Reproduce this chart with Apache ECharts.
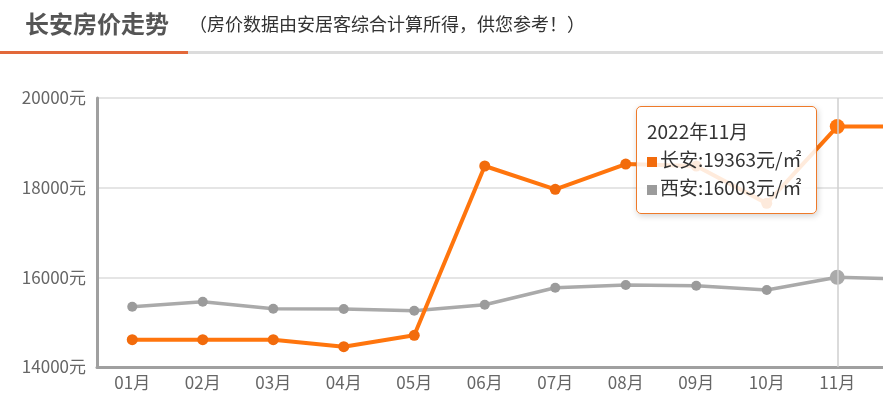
<!DOCTYPE html>
<html>
<head>
<meta charset="utf-8">
<script src="https://cdn.jsdelivr.net/npm/echarts@6/dist/echarts.min.js"></script>
<style>
html,body{margin:0;padding:0;background:#fff;}
#c{width:883px;height:416px;}
</style>
</head>
<body>
<div id="c"></div>
<script>
var months = ['01月','02月','03月','04月','05月','06月','07月','08月','09月','10月','11月','12月'];
var fullMonths = ['2022年01月','2022年02月','2022年03月','2022年04月','2022年05月','2022年06月','2022年07月','2022年08月','2022年09月','2022年10月','2022年11月','2022年12月'];
var changan = [14609, 14609, 14609, 14453, 14707, 18483, 17962, 18527, 18483, 17650, 19363, 19363];
var xian = [15345, 15457, 15300, 15293, 15256, 15390, 15769, 15829, 15814, 15717, 16003, 15960];
var seriesNames = ['长安', '西安'];
var yTicks = { min: 14000, max: 20000, interval: 2000 };
var highlightIndex = 10;

var ORANGE = '#f26b0c';
var GREY = '#9b9b9b';

function toData(arr){
  return arr.map(function(v,i){
    return i === highlightIndex ? {value: v, symbolSize: 15} : v;
  });
}

var chart = echarts.init(document.getElementById('c'), null, {renderer:'canvas'});
chart.setOption({
  animation: false,
  backgroundColor: '#fff',
  textStyle: { fontFamily: '"Noto Sans CJK SC", "Noto Sans", sans-serif' },
  graphic: [
    { type: 'text', left: 25, top: 12, style: { text: '长安房价走势', font: 'bold 24px "Noto Sans CJK SC"', fill: '#555' } },
    { type: 'text', left: 189, top: 15, style: { text: '（房价数据由安居客综合计算所得，供您参考！）', font: '18px "Noto Sans CJK SC"', fill: '#333' } },
    { type: 'rect', shape: { x: 188, y: 51, width: 700, height: 3 }, style: { fill: '#dcdcdc' } },
    { type: 'rect', shape: { x: 0, y: 51, width: 188, height: 3 }, style: { fill: '#e2683a' } }
  ],
  grid: { left: 97, top: 98, width: 846, height: 269, outerBoundsMode: 'none', containLabel: false },
  tooltip: {
    trigger: 'axis',
    alwaysShowContent: true,
    position: function(){ return [636, 106]; },
    backgroundColor: 'rgba(255,255,255,0.86)',
    borderColor: '#ee7a2a',
    borderWidth: 1.5,
    padding: [9, 15, 12, 10],
    extraCssText: 'border-radius:5px;box-shadow:1px 2px 6px rgba(0,0,0,0.18);',
    textStyle: { color: '#333', fontSize: 19, fontFamily: '"Noto Sans CJK SC", sans-serif' },
    axisPointer: { type: 'line', lineStyle: { color: '#cfcfcf', width: 1.5, type: 'solid' } },
    formatter: function(params){
      var idx = params[0].dataIndex;
      var html = '<div style="line-height:29px;font-size:19px;color:#333;">' + fullMonths[idx] + '</div>';
      params.forEach(function(p){
        var col = p.seriesIndex === 0 ? ORANGE : GREY;
        html += '<div style="line-height:28px;font-size:19px;color:#333;white-space:nowrap;">' +
          '<span style="display:inline-block;width:10px;height:10px;background:' + col + ';margin-right:3px;vertical-align:0px;"></span>' +
          p.seriesName + ':' + p.value + '元/㎡</div>';
      });
      return html;
    }
  },
  xAxis: {
    type: 'category',
    data: months,
    boundaryGap: true,
    axisLine: { lineStyle: { color: '#a0a0a0', width: 3 } },
    axisTick: { alignWithLabel: true, length: 4, lineStyle: { color: '#e6e6e6' } },
    axisLabel: { color: '#666', fontSize: 17, margin: 7 }
  },
  yAxis: {
    type: 'value',
    min: yTicks.min, max: yTicks.max, interval: yTicks.interval,
    axisLine: { show: true, lineStyle: { color: '#a0a0a0', width: 3 } },
    axisTick: { show: false },
    axisLabel: { color: '#666', fontSize: 17, margin: 11, formatter: function(v){ return v + '元'; } },
    splitLine: { lineStyle: { color: '#dddddd', width: 1.5 } }
  },
  series: [
    {
      name: seriesNames[0], type: 'line', data: toData(changan),
      symbol: 'circle', symbolSize: 11, z: 3,
      lineStyle: { color: ORANGE, width: 4 },
      itemStyle: { color: ORANGE },
      emphasis: { scale: false, focus: 'none' }
    },
    {
      name: seriesNames[1], type: 'line', data: toData(xian),
      symbol: 'circle', symbolSize: 10, z: 2,
      lineStyle: { color: GREY, width: 3.5 },
      itemStyle: { color: GREY },
      emphasis: { scale: false, focus: 'none' }
    }
  ]
});
chart.dispatchAction({ type: 'showTip', seriesIndex: 0, dataIndex: highlightIndex });
</script>
</body>
</html>
